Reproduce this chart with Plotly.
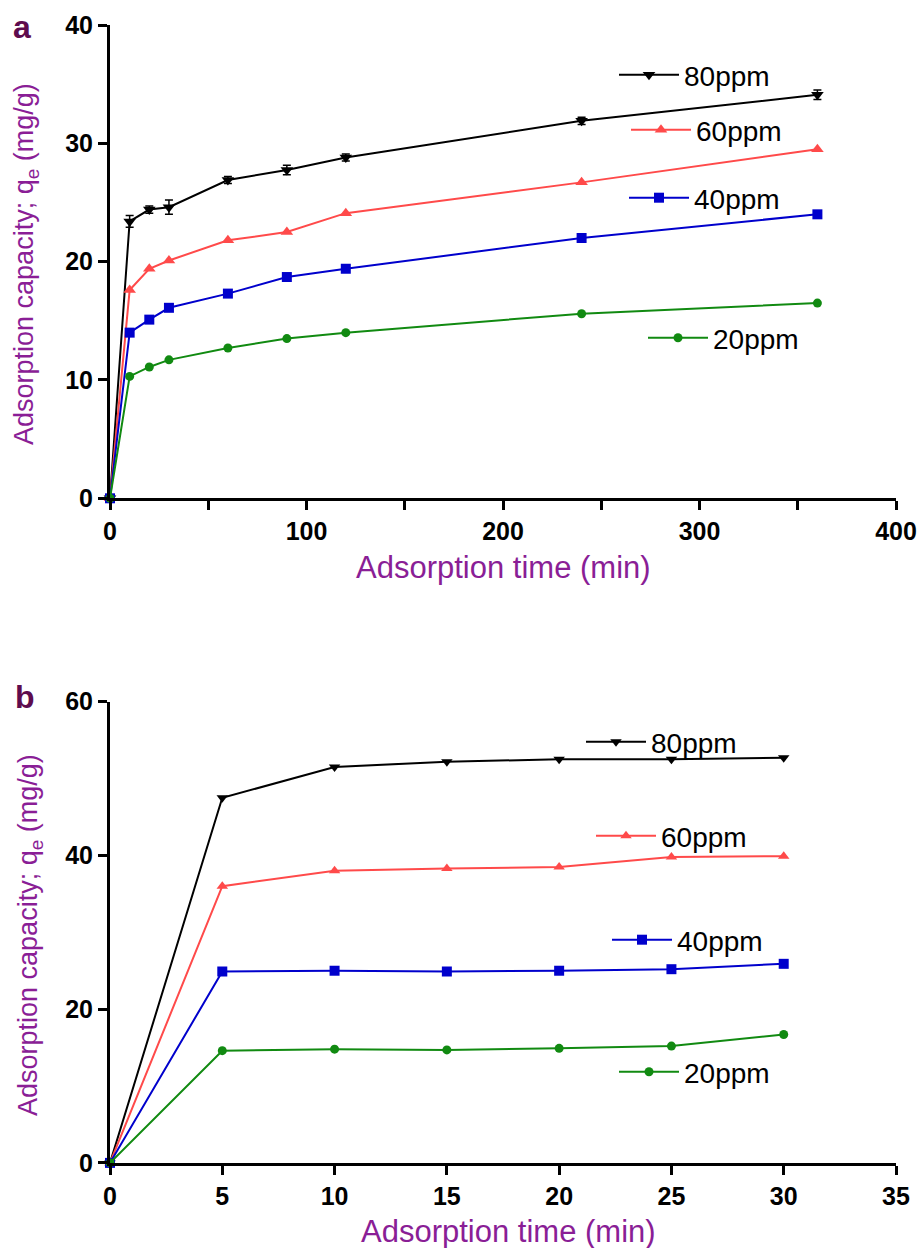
import plotly.graph_objects as go

# ---- data ----
t_a = [0, 10, 20, 30, 60, 90, 120, 240, 360]
a80 = [0, 23.4, 24.4, 24.6, 26.9, 27.75, 28.8, 31.9, 34.1]
a80_err = [0, 0.5, 0.3, 0.6, 0.3, 0.4, 0.3, 0.3, 0.4]
a60 = [0, 17.6, 19.4, 20.1, 21.8, 22.5, 24.1, 26.7, 29.5]
a40 = [0, 14.0, 15.1, 16.1, 17.3, 18.7, 19.4, 22.0, 24.0]
a20 = [0, 10.3, 11.1, 11.7, 12.7, 13.5, 14.0, 15.6, 16.5]

t_b = [0, 5, 10, 15, 20, 25, 30]
b80 = [0, 47.5, 51.5, 52.2, 52.5, 52.5, 52.7]
b60 = [0, 36.0, 38.0, 38.3, 38.5, 39.8, 39.9]
b40 = [0, 24.9, 25.0, 24.9, 25.0, 25.2, 25.9]
b20 = [0, 14.6, 14.8, 14.7, 14.9, 15.2, 16.7]

series_names = ["80ppm", "60ppm", "40ppm", "20ppm"]
colors = ["#000000", "#ff4a4a", "#0000cc", "#118a11"]
symbols = ["triangle-down", "triangle-up", "square", "circle"]
msize_a = [11, 11, 10, 9]
msize_b = [10, 10, 10, 9]

W, H = 920, 1248
def px(x):
    return x / W
def py(y):
    return 1 - y / H

fig = go.Figure()

data_a = [a80, a60, a40, a20]
data_b = [b80, b60, b40, b20]
legend_ids = ["legend2", "legend3", "legend4", "legend5", "legend6", "legend7", "legend8", "legend9"]

for i, name in enumerate(series_names):
    kw = {}
    if i == 0:
        kw["error_y"] = dict(type="data", array=a80_err, visible=True, color="#000000",
                             thickness=1.5, width=4)
    fig.add_trace(go.Scatter(
        x=t_a, y=data_a[i], name=name, mode="lines+markers",
        line=dict(color=colors[i], width=2),
        marker=dict(symbol=symbols[i], size=msize_a[i], color=colors[i]),
        xaxis="x", yaxis="y", cliponaxis=False, legend=legend_ids[i], showlegend=True, **kw))

for i, name in enumerate(series_names):
    fig.add_trace(go.Scatter(
        x=t_b, y=data_b[i], name=name, mode="lines+markers",
        line=dict(color=colors[i], width=2),
        marker=dict(symbol=symbols[i], size=msize_b[i], color=colors[i]),
        xaxis="x2", yaxis="y2", cliponaxis=False, legend=legend_ids[4 + i], showlegend=True))

tickfont = dict(family="Liberation Sans, Arial, sans-serif", size=25, color="#000000", weight="bold")
axis_common = dict(showline=True, linewidth=3, linecolor="#000000", ticks="outside",
                   ticklen=9, tickwidth=3, tickcolor="#000000", showgrid=False,
                   zeroline=False, tickfont=tickfont, automargin=False)

xdom = [px(110), px(896)]
fig.update_layout(
    width=W, height=H,
    margin=dict(l=0, r=0, t=0, b=0, autoexpand=False),
    paper_bgcolor="white", plot_bgcolor="white",
    font=dict(family="Liberation Sans, Arial, sans-serif", color="#000000"),
    xaxis=dict(domain=xdom, anchor="y", range=[0, 400], dtick=100,
               minor=dict(dtick=50, ticks="outside", ticklen=9, tickwidth=3, tickcolor="#000000"),
               **axis_common),
    yaxis=dict(domain=[py(498.3), py(25)], anchor="x", range=[0, 40], dtick=10, **axis_common),
    xaxis2=dict(domain=xdom, anchor="y2", range=[0, 35], dtick=5, **axis_common),
    yaxis2=dict(domain=[py(1162.9), py(701.7)], anchor="x2", range=[0, 60], dtick=20, **axis_common),
)

# legends positioned individually
leg_pos = [(614, 75), (626, 130), (624, 198), (643, 338),
           (581, 742), (591, 836), (607, 940), (614, 1072)]
leg_font = dict(family="Liberation Sans, Arial, sans-serif", size=28, color="#000000")
for lid, (lx, ly) in zip(legend_ids, leg_pos):
    fig.update_layout({lid: dict(x=px(lx), y=py(ly), xanchor="left", yanchor="middle",
                                 bgcolor="rgba(0,0,0,0)", borderwidth=0, font=leg_font,
                                 itemwidth=60, visible=True)})

title_color = "#8a1e96"
title_font = dict(family="Liberation Sans, Arial, sans-serif", size=31, color=title_color)
ytitle = "Adsorption capacity; q<sub>e</sub> (mg/g)"
xtitle = "Adsorption time (min)"
anns = [
    dict(text=xtitle, x=px(503), y=py(568), xref="paper", yref="paper", showarrow=False,
         xanchor="center", yanchor="middle", font=title_font),
    dict(text=xtitle, x=px(508), y=py(1231), xref="paper", yref="paper", showarrow=False,
         xanchor="center", yanchor="middle", font=title_font),
    dict(text=ytitle, x=px(26), y=py(264), xref="paper", yref="paper", showarrow=False,
         xanchor="center", yanchor="middle", textangle=-90, font=dict(title_font, size=27)),
    dict(text=ytitle, x=px(30), y=py(935), xref="paper", yref="paper", showarrow=False,
         xanchor="center", yanchor="middle", textangle=-90, font=dict(title_font, size=27)),
    dict(text="a", x=px(22), y=py(27), xref="paper", yref="paper", showarrow=False,
         xanchor="center", yanchor="middle",
         font=dict(family="Liberation Sans, Arial, sans-serif", size=32, color="#5e0c4e", weight="bold")),
    dict(text="b", x=px(25), y=py(697), xref="paper", yref="paper", showarrow=False,
         xanchor="center", yanchor="middle",
         font=dict(family="Liberation Sans, Arial, sans-serif", size=32, color="#5e0c4e", weight="bold")),
]
fig.update_layout(annotations=anns)

fig.write_html("out.html")
